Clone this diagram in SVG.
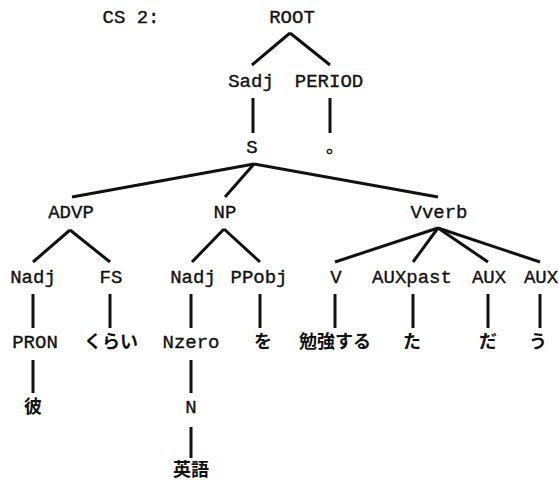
<svg xmlns="http://www.w3.org/2000/svg" width="559" height="480" viewBox="0 0 559 480">
<style>
.t{font-family:"Liberation Mono","Courier New",monospace;font-size:19px;fill:#111;text-anchor:middle;stroke:#111;stroke-width:0.35}
.j{font-family:"Noto Sans CJK JP","Noto Sans CJK SC",sans-serif;font-size:18px;font-weight:bold;fill:#111;text-anchor:middle}
.c line{stroke:#111;stroke-width:3;stroke-linecap:butt}
</style>
<rect width="559" height="480" fill="#fff"/>
<g id="label"><text class="t" x="131" y="23">CS 2:</text></g>
<g class="c" id="connectors">
<line x1="290" y1="33" x2="252" y2="65"/>
<line x1="290" y1="33" x2="330" y2="65"/>
<line x1="253" y1="98" x2="253" y2="133"/>
<line x1="330" y1="98" x2="330" y2="133"/>
<line x1="254" y1="164" x2="72" y2="197"/>
<line x1="254" y1="164" x2="225" y2="197"/>
<line x1="254" y1="164" x2="438" y2="197"/>
<line x1="70" y1="230" x2="33" y2="262"/>
<line x1="70" y1="230" x2="110" y2="262"/>
<line x1="224" y1="229" x2="192" y2="262"/>
<line x1="224" y1="229" x2="260" y2="262"/>
<line x1="438" y1="228" x2="335" y2="262"/>
<line x1="438" y1="228" x2="413" y2="262"/>
<line x1="438" y1="228" x2="488" y2="262"/>
<line x1="438" y1="228" x2="540" y2="262"/>
<line x1="33" y1="294" x2="33" y2="328"/>
<line x1="110" y1="294" x2="110" y2="328"/>
<line x1="191" y1="294" x2="191" y2="328"/>
<line x1="260" y1="294" x2="260" y2="328"/>
<line x1="335" y1="294" x2="335" y2="328"/>
<line x1="413" y1="294" x2="413" y2="328"/>
<line x1="488" y1="294" x2="488" y2="328"/>
<line x1="540" y1="294" x2="540" y2="328"/>
<line x1="33" y1="360" x2="33" y2="393"/>
<line x1="191" y1="360" x2="191" y2="393"/>
<line x1="191" y1="427" x2="191" y2="458"/>
</g>
<g id="n-root"><text class="t" x="292" y="23">ROOT</text></g>
<g id="n-sadj"><text class="t" x="251" y="87">Sadj</text></g>
<g id="n-period"><text class="t" x="329" y="87">PERIOD</text></g>
<g id="n-s"><text class="t" x="252" y="153">S</text></g>
<g id="n-maru"><text class="j" x="335" y="153">。</text></g>
<g id="n-advp"><text class="t" x="71" y="218">ADVP</text></g>
<g id="n-np"><text class="t" x="225" y="218">NP</text></g>
<g id="n-vverb"><text class="t" x="439" y="218">Vverb</text></g>
<g id="n-nadj1"><text class="t" x="33" y="283">Nadj</text></g>
<g id="n-fs"><text class="t" x="111" y="283">FS</text></g>
<g id="n-nadj2"><text class="t" x="193" y="283">Nadj</text></g>
<g id="n-ppobj"><text class="t" x="259" y="283">PPobj</text></g>
<g id="n-v"><text class="t" x="336" y="283">V</text></g>
<g id="n-auxpast"><text class="t" x="412" y="283">AUXpast</text></g>
<g id="n-aux1"><text class="t" x="489" y="283">AUX</text></g>
<g id="n-aux2"><text class="t" x="541" y="283">AUX</text></g>
<g id="n-pron"><text class="t" x="35" y="348">PRON</text></g>
<g id="n-kurai"><text class="j" x="111" y="348">くらい</text></g>
<g id="n-nzero"><text class="t" x="191" y="348">Nzero</text></g>
<g id="n-wo"><text class="j" x="263" y="348">を</text></g>
<g id="n-benkyo"><text class="j" x="335" y="348">勉強する</text></g>
<g id="n-ta"><text class="j" x="412" y="348">た</text></g>
<g id="n-da"><text class="j" x="488" y="348">だ</text></g>
<g id="n-u"><text class="j" x="538" y="348">う</text></g>
<g id="n-kare"><text class="j" x="33" y="413">彼</text></g>
<g id="n-n"><text class="t" x="191" y="413">N</text></g>
<g id="n-eigo"><text class="j" x="191" y="476">英語</text></g>
</svg>
